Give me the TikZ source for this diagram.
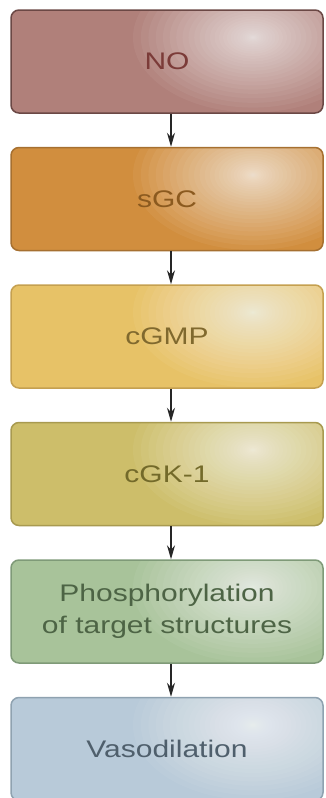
\documentclass[tikz,border=0pt]{standalone}
\usepackage{fontspec}
\newfontfamily\boxfont[FakeStretch=1.25]{Liberation Sans}
\usetikzlibrary{arrows.meta}
\definecolor{noF}{HTML}{B0807A}\definecolor{noD}{HTML}{6B4845}\definecolor{noT}{HTML}{7B3B38}
\definecolor{sgF}{HTML}{D18E3E}\definecolor{sgD}{HTML}{A67030}\definecolor{sgT}{HTML}{8B5A1F}
\definecolor{cmF}{HTML}{E7C267}\definecolor{cmD}{HTML}{C5A050}\definecolor{cmT}{HTML}{80692E}
\definecolor{ckF}{HTML}{CDBE6A}\definecolor{ckD}{HTML}{A89A50}\definecolor{ckT}{HTML}{736A2A}
\definecolor{phF}{HTML}{A8C39A}\definecolor{phD}{HTML}{7F9A78}\definecolor{phT}{HTML}{4D6445}
\definecolor{vaF}{HTML}{B8CAD9}\definecolor{vaD}{HTML}{8FA2B0}\definecolor{vaT}{HTML}{4F5F6C}
\tikzset{
  mybox/.style={rectangle, rounded corners=8pt, draw=#1D, fill=#1F, text=#1T,
    line width=1.5pt, minimum width=312pt, minimum height=103pt, align=center,
    font=\boxfont\fontsize{24}{32}\selectfont,
    path picture={\foreach \i in {1,...,30}{
      \fill[white, opacity=0.05]
        ([xshift=86pt,yshift=24pt]path picture bounding box.center)
        ellipse ({120pt*(\i/30)*(\i/30)} and {75pt*(\i/30)*(\i/30)});}}},
  arr/.style={line width=1.2pt, black!85, -{Stealth[length=14pt,width=8pt]}}
}
\begin{document}
\begin{tikzpicture}
\useasboundingbox[fill=white] (0pt,0pt) rectangle (325pt,-798pt);
\node[mybox=no] (no) at (167pt,-61.5pt) {NO};
\node[mybox=sg] (sgc) at (167pt,-199pt) {sGC};
\node[mybox=cm] (cgmp) at (167pt,-336.5pt) {cGMP};
\node[mybox=ck] (cgk) at (167pt,-474pt) {cGK-1};
\node[mybox=ph] (phos) at (167pt,-611.5pt) {Phosphorylation\\of target structures};
\node[mybox=va] (vaso) at (167pt,-749pt) {Vasodilation};
\foreach \a/\b in {no/sgc, sgc/cgmp, cgmp/cgk, cgk/phos, phos/vaso}
  \draw[arr] ([xshift=4pt]\a.south) -- ([xshift=4pt]\b.north);
\end{tikzpicture}
\end{document}
